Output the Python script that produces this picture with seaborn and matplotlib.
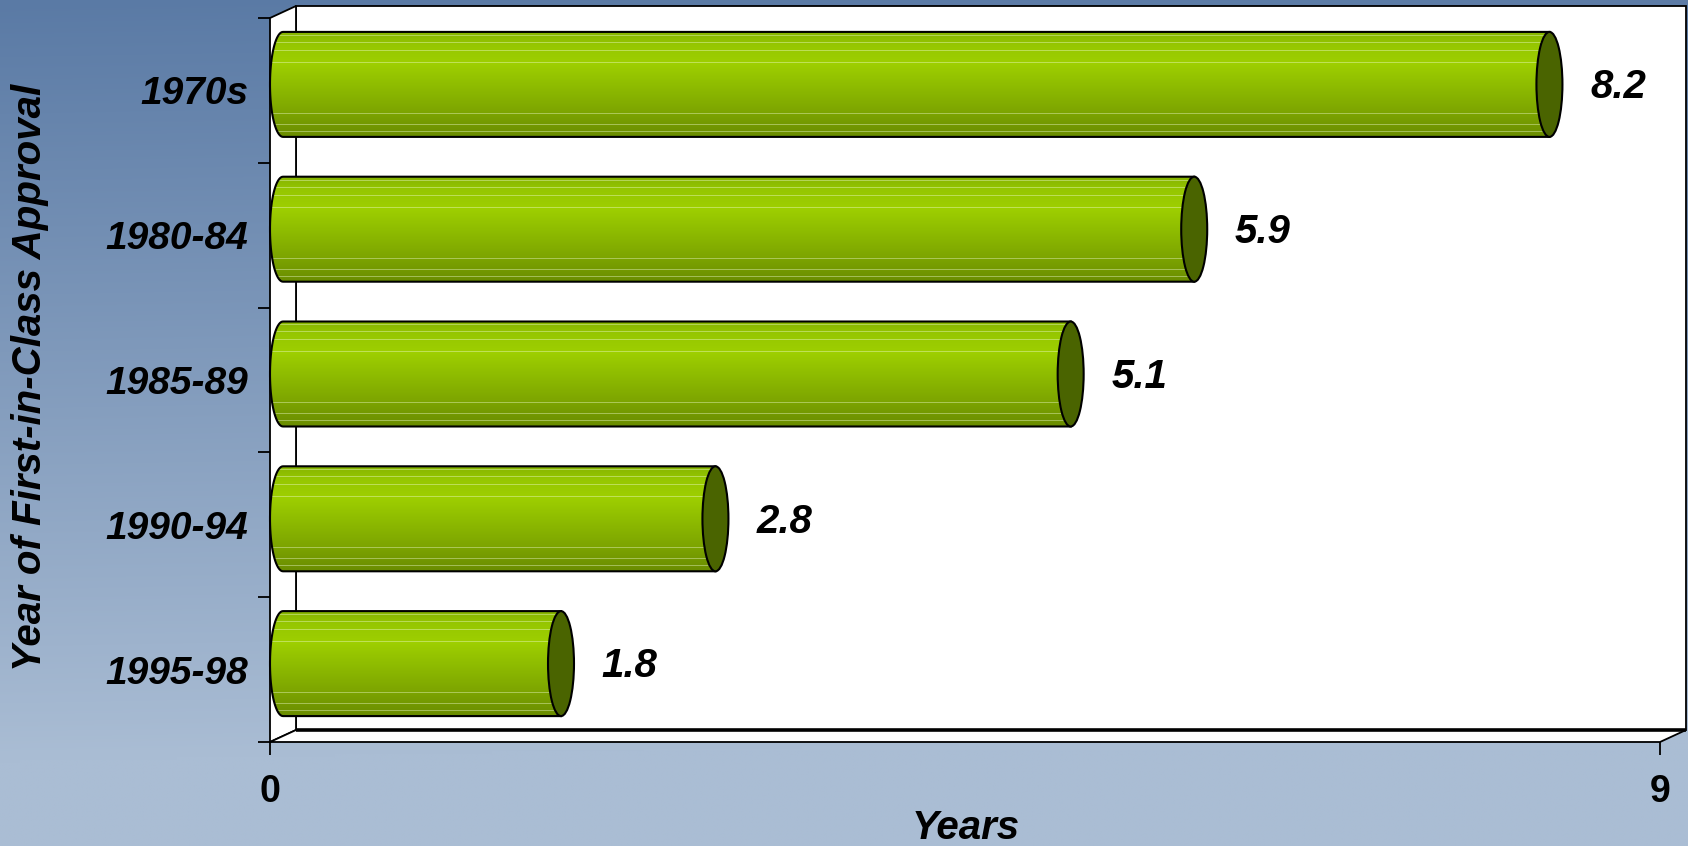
import numpy as np
import pandas as pd
import matplotlib
matplotlib.use("Agg")
import matplotlib.pyplot as plt
import seaborn as sns
from matplotlib.patches import Polygon, Ellipse, Rectangle
from matplotlib.colors import to_rgb

# ---- data ----
categories = ["1970s", "1980-84", "1985-89", "1990-94", "1995-98"]
values = [8.2, 5.9, 5.1, 2.8, 1.8]
x_ticks = [0, 9]
x_tick_labels = ["0", "9"]
x_label = "Years"
y_label = "Year of First-in-Class Approval"

W, H, DPI = 1688, 846, 100
sns.set_theme(style="white")
plt.rcParams["font.family"] = ["Liberation Sans", "DejaVu Sans"]

fig = plt.figure(figsize=(W / DPI, H / DPI), dpi=DPI)

# ---- background gradient ----
bg = fig.add_axes([0, 0, 1, 1], zorder=-10)
yy, xx = np.mgrid[0:1:300j, 0:1:300j]
tt = np.clip(yy / 0.9 + 0.04 * xx, 0, 1)
c_top = np.array(to_rgb("#5a7aa5"))
c_bot = np.array(to_rgb("#aabdd4"))
bg.imshow(c_top + (c_bot - c_top) * tt[..., None], extent=[0, 1, 0, 1],
          aspect="auto", interpolation="bilinear")
bg.set_axis_off()

# ---- main axes (front plane) ----
ax = fig.add_axes([270 / W, (H - 742) / H, 1390 / W, 724 / H])
ax.patch.set_visible(False)

df = pd.DataFrame({"era": categories, "years": values})
sns.barplot(data=df, x="years", y="era", orient="h", ax=ax, width=0.725,
            color="#8fbf00", saturation=1)

XMIN, XMAX = 0, 9
YMIN, YMAX = -0.5, len(categories) - 0.5
ax.set_xlim(XMIN, XMAX)
ax.set_ylim(YMAX, YMIN)

pos = ax.get_position()
ux = pos.width * W / (XMAX - XMIN)      # px per x unit
uy = pos.height * H / (YMAX - YMIN)     # px per category
dxd = 26 / ux                           # depth offset in data units
dyd = -12 / uy

# ---- 3D frame ----
ax.add_patch(Rectangle((XMIN + dxd, YMIN + dyd), XMAX - XMIN, YMAX - YMIN,
                       fc="white", ec="black", lw=1.3, zorder=0.5, clip_on=False))
ax.add_patch(Polygon([(XMIN, YMIN), (XMIN + dxd, YMIN + dyd),
                      (XMIN + dxd, YMAX + dyd), (XMIN, YMAX)],
                     closed=True, fc="white", ec="black", lw=1.3, zorder=0.6, clip_on=False))
ax.add_patch(Polygon([(XMIN, YMAX), (XMAX, YMAX),
                      (XMAX + dxd, YMAX + dyd), (XMIN + dxd, YMAX + dyd)],
                     closed=True, fc="white", ec="black", lw=1.3, zorder=0.6, clip_on=False))
ax.plot([XMIN + dxd, XMAX + dxd], [YMAX + dyd, YMAX + dyd], color="black",
        lw=2.6, zorder=0.7, clip_on=False, solid_capstyle="butt")

# ---- cylinder gradient ----
N = 105
stops_t = [0.0, 0.12, 0.3, 0.5, 0.75, 1.0]
stops_c = [to_rgb(c) for c in ["#86b400", "#96c700", "#9ecf00", "#8fbd00", "#7ea600", "#6a8c00"]]
tg = np.linspace(0, 1, N)
grad = np.stack([np.interp(tg, stops_t, [c[k] for c in stops_c]) for k in range(3)], axis=1)
for lt in [0.03, 0.1, 0.17, 0.29, 0.78, 0.88, 0.95]:
    r = int(round(lt * (N - 1)))
    grad[r] = grad[r] * 0.6 + 0.4 * np.array([0.95, 1.0, 0.85])
grad = grad[:, None, :]

hx, hy = dxd / 2, dyd / 2
bars = [p for p in ax.patches if isinstance(p, Rectangle) and p.get_zorder() > 0.9 and p.get_width() > 0]
bars = [p for p in bars if p.get_height() < 1]
for p, v in zip(bars, values):
    x0, y0, w, h = p.get_x(), p.get_y(), p.get_width(), p.get_height()
    p.set_visible(False)
    bx, by = x0 + hx, y0 + hy
    cy = by + h / 2
    th = np.linspace(0, np.pi, 40)
    arc = np.column_stack([bx - hx * np.sin(th), cy - (h / 2) * np.cos(th)])
    pts = np.vstack([[bx + w, by], [bx, by], arc, [bx + w, by + h]])
    body = Polygon(pts, closed=True, fc="none", ec="black", lw=1.5, zorder=4, clip_on=False)
    ax.add_patch(body)
    im = ax.imshow(grad, extent=[bx - hx, bx + w, by + h, by], aspect="auto",
                   interpolation="nearest", zorder=3)
    im.set_clip_path(body)
    ax.add_patch(Ellipse((bx + w, cy), dxd, h, fc="#4a6400", ec="black", lw=1.5,
                         zorder=5, clip_on=False))
    ax.annotate(f"{v:.1f}", xy=(bx + w + hx, cy), xytext=(20, -2),
                textcoords="offset points", ha="left", va="center",
                fontsize=29, fontweight="bold", fontstyle="italic", color="black")

ax.set_xlim(XMIN, XMAX)
ax.set_ylim(YMAX, YMIN)

# ---- ticks ----
for s in ax.spines.values():
    s.set_visible(False)
ax.grid(False)
ax.set_xticks(x_ticks, labels=x_tick_labels)
ax.tick_params(axis="x", which="major", length=9.4, width=1.3, color="black",
               direction="out", pad=13.5, labelsize=27, labelcolor="black", bottom=True)
for lbl in ax.get_xticklabels():
    lbl.set_fontweight("bold")
bounds = np.arange(len(categories) + 1) - 0.5
ax.set_yticks(bounds, labels=[""] * len(bounds))
ax.set_yticks(np.arange(len(categories)), labels=categories, minor=True)
ax.tick_params(axis="y", which="major", length=8.6, width=1.3, color="black",
               direction="out", left=True)
ax.tick_params(axis="y", which="minor", length=0, pad=15.8, labelsize=28,
               labelcolor="black", left=True)
for lbl in ax.get_yticklabels(minor=True):
    lbl.set_fontweight("bold")
    lbl.set_fontstyle("italic")
ax.set_xlabel("")
ax.set_ylabel("")

fig.text(30 / W, 1 - 377 / H, y_label, rotation=90, ha="center", va="center",
         fontsize=29, fontweight="bold", fontstyle="italic", color="black")
fig.text(966 / W, 1 - 828 / H, x_label, ha="center", va="center",
         fontsize=29, fontweight="bold", fontstyle="italic", color="black")

fig.savefig("out.png", dpi=DPI)
